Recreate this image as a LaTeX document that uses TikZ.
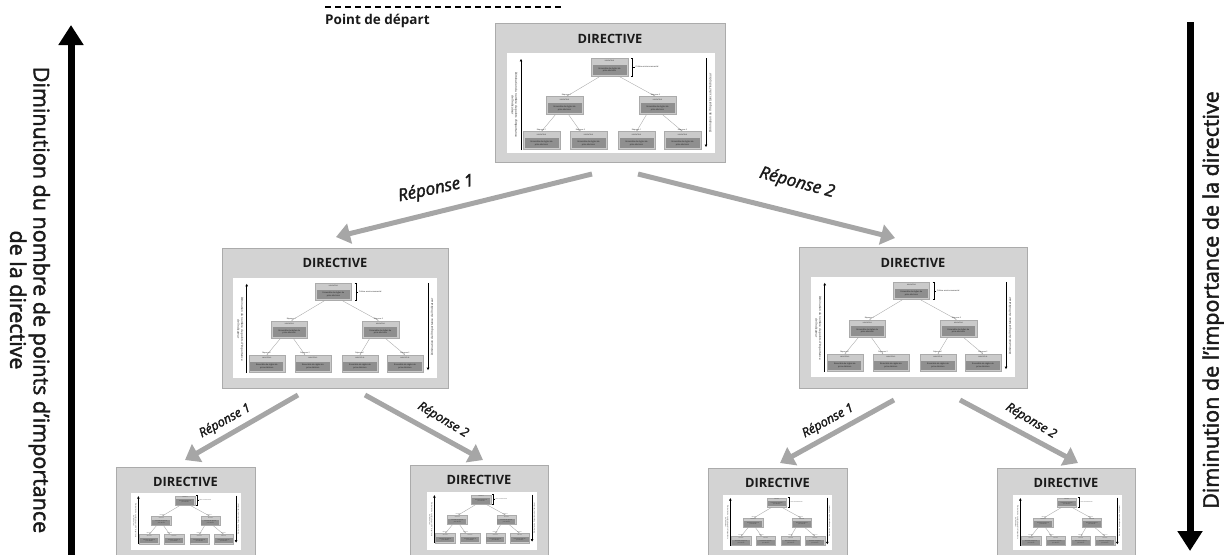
\documentclass[tikz,border=0pt]{standalone}
\usepackage{fontspec}
\setmainfont{Open Sans}
\newfontfamily\heavyfont{Open Sans}[FakeBold=2]
\usetikzlibrary{arrows.meta,calc}
\definecolor{boxgray}{HTML}{D3D3D3}
\definecolor{boxedge}{HTML}{ABABAB}
\definecolor{arrgray}{HTML}{A6A6A6}
\definecolor{indlight}{HTML}{CACACA}
\definecolor{inddark}{HTML}{8F8F8F}
\definecolor{txt}{HTML}{1A1A1A}
\newcommand\indic[3]{%
  \node[indouter] (#1) at (#2,#3) {};
  \node[indhead] at (#2,#3-5.6) {INDICATEUR};
  \node[indbody] at (#2,#3+2.8) {Ensemble de règles de\\prise décision};
}
\tikzset{
  indouter/.style={draw=boxedge, line width=0.2pt, fill=indlight, minimum width=37, minimum height=18, inner sep=0},
  indhead/.style={font=\fontsize{1.6}{1.8}\selectfont, text=txt, inner sep=0},
  indbody/.style={fill=inddark, minimum width=34, minimum height=10, inner sep=0, align=center, font=\fontsize{2.1}{2.5}\selectfont, text=txt},
  minil/.style={draw=gray!70, line width=0.35pt, -{Stealth[length=1.6pt,width=1.4pt]}},
  minilab/.style={sloped, above, font=\fontsize{1.9}{2.2}\selectfont, inner sep=0.4pt, text=txt},
  miniside/.style={font=\fontsize{3}{3.6}\selectfont, align=center, inner sep=0, text=txt},
  mini/.pic={
    \indic{-t}{102.5}{14}
    \indic{-m1}{57.5}{52.5}
    \indic{-m2}{150.5}{52.5}
    \indic{-b1}{34.5}{87.5}
    \indic{-b2}{81.5}{87.5}
    \indic{-b3}{129.5}{87.5}
    \indic{-b4}{175.5}{87.5}
    \draw[minil] ($(-t.south)+(-9,0)$) -- node[minilab]{Réponse 1} ($(-m1.north)+(2,0)$);
    \draw[minil] ($(-t.south)+(9,0)$) -- node[minilab]{Réponse 2} ($(-m2.north)+(-2,0)$);
    \draw[minil] ($(-m1.south)+(-9,0)$) -- node[minilab]{Réponse 1} ($(-b1.north)+(0,0)$);
    \draw[minil] ($(-m1.south)+(4,0)$) -- node[minilab]{Réponse 2} ($(-b2.north)+(-8,0)$);
    \draw[minil] ($(-m2.south)+(-11,0)$) -- node[minilab]{Réponse 1} ($(-b3.north)+(0,0)$);
    \draw[minil] ($(-m2.south)+(5,0)$) -- node[minilab]{Réponse 2} ($(-b4.north)+(0,0)$);
    \draw[line width=0.4pt] (124,5) -- (125.5,5) -- (125.5,23) -- (124,23) (125.5,14) -- (128,14);
    \node[anchor=west, font=\fontsize{2}{2.4}\selectfont, inner sep=0, text=txt] (-crit) at (128.5,14) {Critère environnemental};
    \coordinate (-la0) at (14,97);
    \coordinate (-la1) at (14,6);
    \draw[line width=0.9pt, -{Triangle[length=2.4pt,width=2.4pt]}] (-la0) -- (-la1);
    \node[miniside, rotate=-90] (-ltxt) at (7.5,52) {Diminution du nombre de points d’importance\\de l’indicateur};
    \coordinate (-ra0) at (199,5);
    \coordinate (-ra1) at (199,94);
    \draw[line width=0.9pt, -{Triangle[length=2.4pt,width=2.4pt]}] (-ra0) -- (-ra1);
    \node[miniside, rotate=90] (-rtxt) at (203.5,50) {Diminution de l’importance de l’indicateur};
  },
  outerbox/.style={draw=boxedge, line width=1pt, fill=boxgray},
  title/.style={font=\bfseries\fontsize{12.8}{14}\selectfont, text=txt, inner sep=0},
  bigarr/.style={draw=arrgray, line width=5pt, -{Triangle[length=14pt,width=20pt]}},
  replab/.style={font=\heavyfont\itshape\fontsize{17}{20}\selectfont, text=txt, inner sep=0},
  replabs/.style={font=\heavyfont\itshape\fontsize{12.5}{15}\selectfont, text=txt, inner sep=0},
  sidearr/.style={draw=black, line width=7pt, -{Triangle[length=20pt,width=24pt]}},
  sidetxt/.style={font=\heavyfont\fontsize{21.5}{23.5}\selectfont, text=txt, align=center, inner sep=0},
}
\begin{document}
\begin{tikzpicture}[x=1pt,y=-1pt]
\useasboundingbox (0,0) rectangle (1231,554);
% start label
\draw[line width=1.2pt, dash pattern=on 6pt off 4pt] (325,7) -- (562,7);
\node[anchor=west, font=\bfseries\fontsize{13.5}{15}\selectfont, text=txt, inner sep=0] (start) at (325,21) {Point de départ};
% boxes
\draw[outerbox] (495,23) rectangle (725,162);
\fill[white] (507,53) rectangle (715,153);
\node[title] (dt) at (610,39) {DIRECTIVE};
\pic (mt) at (507,53) {mini};

\draw[outerbox] (222,248) rectangle (448,388);
\fill[white] (233,278) rectangle (437,378);
\node[title] (dml) at (335,263) {DIRECTIVE};
\pic[scale=0.98, transform shape] (mml) at (233,278) {mini};

\draw[outerbox] (799,247) rectangle (1027,388);
\fill[white] (811,277) rectangle (1015,377);
\node[title] (dmr) at (913,263) {DIRECTIVE};
\pic[scale=0.98, transform shape] (mmr) at (811,277) {mini};

\draw[outerbox] (116,467) rectangle (255,570);
\fill[white] (131,493) rectangle (241,550);
\node[title] (db1) at (185.5,482) {DIRECTIVE};
\pic[scale=0.528, transform shape] (mb1) at (131,493) {mini};

\draw[outerbox] (410,465) rectangle (548,570);
\fill[white] (427,492) rectangle (537,550);
\node[title] (db2) at (479,480) {DIRECTIVE};
\pic[scale=0.528, transform shape] (mb2) at (427,492) {mini};

\draw[outerbox] (708,468) rectangle (847,570);
\fill[white] (723,495) rectangle (832,550);
\node[title] (db3) at (777.5,483) {DIRECTIVE};
\pic[scale=0.524, transform shape] (mb3) at (723,495) {mini};

\draw[outerbox] (997,468) rectangle (1135,570);
\fill[white] (1013,495) rectangle (1122,550);
\node[title] (db4) at (1066,483) {DIRECTIVE};
\pic[scale=0.524, transform shape] (mb4) at (1013,495) {mini};

% connectors
\coordinate (a1s) at (592,174); \coordinate (a1e) at (336,237);
\coordinate (a2s) at (638,174); \coordinate (a2e) at (895,238);
\coordinate (b1s) at (298,395); \coordinate (b1e) at (185,460);
\coordinate (b2s) at (365,395); \coordinate (b2e) at (483,460);
\coordinate (c1s) at (894,400); \coordinate (c1e) at (780,463);
\coordinate (c2s) at (960,400); \coordinate (c2e) at (1078,463);
\draw[bigarr] (a1s) -- (a1e);
\draw[bigarr] (a2s) -- (a2e);
\draw[bigarr] (b1s) -- (b1e);
\draw[bigarr] (b2s) -- (b2e);
\draw[bigarr] (c1s) -- (c1e);
\draw[bigarr] (c2s) -- (c2e);
\node[replab, rotate=12] (r1) at (436,189) {Réponse 1};
\node[replab, rotate=-15] (r2) at (797,183) {Réponse 2};
\node[replabs, rotate=29] (r3) at (225,421) {Réponse 1};
\node[replabs, rotate=-31] (r4) at (443,420) {Réponse 2};
\node[replabs, rotate=29] (r5) at (828,421) {Réponse 1};
\node[replabs, rotate=-31] (r6) at (1031,421) {Réponse 2};
% side arrows
\coordinate (la0) at (71,560); \coordinate (la1) at (71,25);
\draw[sidearr] (la0) -- (la1);
\node[sidetxt, rotate=-90] (ltxt) at (30,300) {Diminution du nombre de points d’importance\\de la directive};
\coordinate (ra0) at (1190,22); \coordinate (ra1) at (1190,551);
\draw[sidearr] (ra0) -- (ra1);
\node[sidetxt, rotate=90] (rtxt) at (1213,300) {Diminution de l’importance de la directive};
\end{tikzpicture}
\end{document}
